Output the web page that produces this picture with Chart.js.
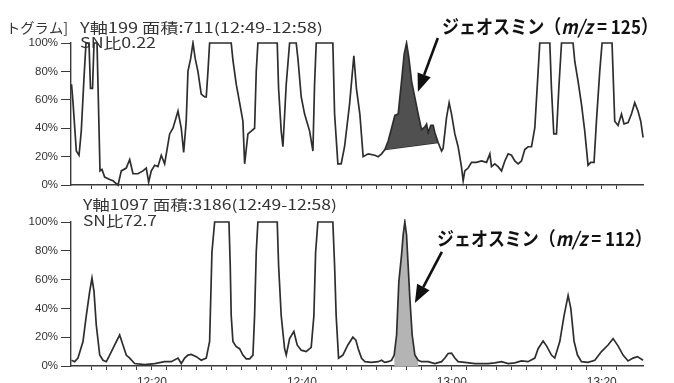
<!DOCTYPE html>
<html>
<head>
<meta charset="utf-8">
<script src="https://cdn.jsdelivr.net/npm/chart.js@4.4.1/dist/chart.umd.min.js"></script>
<style>
  html, body { margin: 0; padding: 0; background: #fff; }
  #wrap { position: relative; width: 674px; height: 383px; overflow: hidden; }
  .box { position: absolute; left: 0; width: 674px; }
</style>
</head>
<body>
<div id="wrap">
  <div class="box" style="top:0;height:195px"><canvas id="chartTop"></canvas></div>
  <div class="box" style="top:195px;height:188px"><canvas id="chartBottom"></canvas></div>
</div>
<script>
// 時間は12:00からの分、強度は%
const time125 = [9.27, 9.47, 9.91, 10.27, 10.57, 10.93, 11.2, 11.6, 11.8, 12.07, 12.27, 12.67, 13.07, 13.33, 13.69,
  14.36, 14.8, 15.24, 15.47, 15.91, 16.57, 17.03, 17.47, 18.13, 18.8, 19.24, 19.56, 19.91, 20.36, 20.8, 21.24, 21.69,
  22.36, 22.8, 23.47, 23.91, 24.23, 24.57, 24.8, 25.16, 25.47, 25.77, 26.13, 26.57, 27.03, 27.24, 27.47, 27.69,
  30.57, 30.8, 31.24, 31.69, 32.13, 32.36, 32.8, 33.24, 33.69, 33.91, 34.13, 36.71, 36.89, 37.24, 37.47, 37.91, 38.36,
  39.24, 39.47, 39.91, 40.36, 41.03, 41.47, 41.69, 41.91, 44.13, 44.36, 44.8, 45.24, 45.69, 46.36, 46.93, 47.27,
  47.73, 48.17, 48.84, 49.73, 50.17, 50.63, 51.07, 51.51, 51.96, 52.4, 52.84, 53.29, 53.64, 53.96, 54.27, 54.63,
  55.07, 55.51, 55.96, 56.4, 56.63, 56.84, 57.2, 57.51, 57.73, 58.17, 58.63, 58.84, 59.29, 59.64, 59.96, 60.4, 60.84,
  61.29, 61.51, 61.73, 62.17, 62.63, 63.29, 63.96, 64.63, 65.07, 65.29, 65.73, 66.17, 66.63, 67.07, 67.51, 67.96,
  68.4, 68.84, 69.29, 69.73, 70.17, 70.63, 71.07, 71.51, 71.73, 73.07, 73.29, 73.6, 73.96, 74.27, 74.63, 76.17,
  76.4, 76.84, 77.29, 77.73, 78.17, 78.53, 78.97, 79.29, 79.73, 80.04, 81.37, 81.73, 82.17, 82.63, 82.97, 83.51,
  83.96, 84.4, 84.84, 85.2, 85.51];
const value125 = [71, 58, 24, 21, 38, 75, 100, 100, 68, 68, 100, 100, 10, 11, 5.6,
  4, 3, 1, 0, 10, 12, 18, 8, 8, 10, 12, 2, 10, 14, 13, 21, 15,
  36, 40, 52, 40, 23, 45, 80, 89, 100, 89, 80, 64, 62, 62, 80, 100,
  100, 88, 71, 58, 45, 15, 36, 38, 40, 80, 100, 100, 68, 38, 27, 71, 100,
  100, 89, 62, 50, 38, 24, 71, 100, 100, 50, 15, 15, 27, 57, 91, 68,
  50, 20, 22, 21, 20, 22, 25, 31, 40, 49, 50, 73, 92, 100, 89.5, 73,
  61.5, 50, 39, 41, 43, 37, 42, 42, 37, 30, 24, 26, 47.5, 58, 50, 36, 27,
  12.6, 3, 10, 12, 16, 16, 17, 16, 22, 13, 15, 13, 10, 17, 22, 21,
  17, 15, 17, 25, 27, 27, 40.5, 80, 100, 100, 68, 36, 36, 68, 100, 100,
  87, 73, 57, 38, 14, 16, 16, 45, 80, 100, 100, 45, 42, 50, 43, 44,
  50, 58, 52, 45, 33.5];

const time112 = [9.27, 9.69, 10.13, 10.8, 11.24, 11.69, 12.0, 12.27, 12.57, 13.03, 13.47, 13.91, 14.36, 15.03, 15.69,
  16.13, 16.57, 17.03, 17.69, 19.03, 20.36, 21.69, 22.57, 23.47, 23.91, 24.36, 24.8, 25.24, 25.91, 26.57, 27.24,
  27.69, 28.0, 28.36, 30.27, 30.44, 30.57, 30.8, 31.24, 31.69, 32.13, 32.57, 33.03, 33.47, 33.69, 33.91, 34.13,
  36.71, 36.89, 37.24, 37.69, 37.91, 38.36, 38.93, 39.37, 39.91, 40.57, 41.24, 41.6, 41.83, 42.13, 44.13, 44.36,
  44.57, 44.89, 45.47, 46.13, 46.8, 47.2, 47.51, 47.96, 48.4, 49.29, 50.17, 50.63, 51.07, 51.51, 51.96, 52.31,
  52.63, 52.93, 53.29, 53.51, 53.73, 53.96, 54.17, 54.4, 54.71, 55.07, 55.51, 55.96, 56.84, 57.73, 58.63, 59.07,
  59.51, 59.96, 60.4, 60.84, 61.73, 63.07, 64.84, 65.73, 66.63, 67.51, 68.4, 69.29, 70.17, 71.07, 71.51, 72.17,
  72.63, 73.29, 73.73, 74.4, 74.97, 75.51, 75.87, 76.31, 76.76, 77.29, 78.17, 79.07, 79.96, 80.84, 81.51, 82.17,
  82.84, 83.51, 84.17, 84.76, 85.51];
const value112 = [4, 3, 5.5, 17, 35, 51.6, 61, 51.6, 28.5, 7.6, 4, 3, 7.6, 14.6, 21.5,
  14.6, 7.6, 5.5, 1.7, 1, 1.7, 3, 3, 5.5, 1.7, 5.5, 7.6, 8, 6.5, 4, 5.5,
  17, 79, 100, 100, 70, 35, 17, 13.4, 12, 7.6, 5, 5, 7.6, 35, 79, 100,
  100, 70, 35, 12, 7.6, 19, 24, 14.6, 11, 10, 13, 35, 79, 100, 100, 70,
  35, 5.5, 7.6, 14.6, 20, 18, 12, 5.3, 3, 2.5, 3, 4, 2.5, 3, 4, 7.6,
  21.5, 58.5, 77, 91, 100, 91, 70, 47, 21.5, 7.6, 4, 3, 3, 1.7, 3, 5.5,
  8.7, 9, 5.5, 3, 2.5, 1.7, 1.7, 2.2, 3, 1.7, 2.2, 3.5, 3, 5.5, 12, 17.4,
  14, 7.6, 5.5, 17, 35, 49, 40, 17, 7.6, 3, 2.5, 4, 10, 14.6, 19, 14,
  7.6, 3.5, 5.5, 6.5, 4];

// ジェオスミンのピーク範囲（分）とベースライン
const peak125Range = [51.07, 58.17];
const base125Time = [51.07, 58.17];
const base125Value = [25, 30];
const peak112Range = [52.31, 55.51];

const yTicks = [0, 20, 40, 60, 80, 100];
const xLabelTimes = [20, 40, 60, 80];

function toPoints(times, values) {
  return times.map((t, i) => ({ x: t, y: values[i] }));
}
function pickRange(times, values, range) {
  return toPoints(times, values).filter(p => p.x >= range[0] - 1e-6 && p.x <= range[1] + 1e-6);
}
function timeLabel(v) {
  const h = 12 + Math.floor(v / 60);
  const m = v % 60;
  return h + ":" + String(m).padStart(2, "0");
}

function drawRuns(ctx, runs, x, y, width) {
  ctx.save();
  ctx.textBaseline = "middle";
  let total = 0;
  runs.forEach(r => { ctx.font = r.font; r.w = ctx.measureText(r.text).width; total += r.w; });
  ctx.translate(x, y);
  ctx.scale(width / total, 1);
  let cx = 0;
  runs.forEach(r => {
    ctx.font = r.font;
    ctx.fillStyle = r.color || "#333";
    ctx.fillText(r.text, cx, 0);
    cx += r.w;
  });
  ctx.restore();
}

function drawArrow(chart, from, to) {
  const ctx = chart.ctx;
  const xs = chart.scales.x, ys = chart.scales.y;
  const x1 = xs.getPixelForValue(from[0]), y1 = ys.getPixelForValue(from[1]);
  const x2 = xs.getPixelForValue(to[0]), y2 = ys.getPixelForValue(to[1]);
  const ang = Math.atan2(y2 - y1, x2 - x1);
  const head = 18, half = 7;
  const bx = x2 - head * Math.cos(ang), by = y2 - head * Math.sin(ang);
  ctx.save();
  ctx.strokeStyle = "#111";
  ctx.fillStyle = "#111";
  ctx.lineWidth = 2.6;
  ctx.beginPath();
  ctx.moveTo(x1, y1);
  ctx.lineTo(bx, by);
  ctx.stroke();
  ctx.beginPath();
  ctx.moveTo(x2, y2);
  ctx.lineTo(bx - half * Math.sin(ang), by + half * Math.cos(ang));
  ctx.lineTo(bx + half * Math.sin(ang), by - half * Math.cos(ang));
  ctx.closePath();
  ctx.fill();
  ctx.restore();
}

const capFont = '14px "Noto Sans CJK JP"';
const boldFont = 'bold 19px "Noto Sans CJK JP"';
const boldItalic = 'italic bold 19px "Noto Sans CJK JP"';

const notesPlugin = {
  id: "notes",
  beforeDatasetsDraw(chart, args, opts) {
    (opts.captions || []).forEach(c => drawRuns(chart.ctx, [{ text: c.text, font: capFont, color: "#333" }], c.x, c.y, c.w));
  },
  afterDraw(chart, args, opts) {
    if (opts.label) {
      const l = opts.label;
      drawRuns(chart.ctx, [
        { text: "ジェオスミン（", font: boldFont, color: "#111" },
        { text: "m/z", font: boldItalic, color: "#111" },
        { text: " = " + l.mz + "）", font: boldFont, color: "#111" }
      ], l.x, l.y, l.w);
    }
    if (opts.arrow) drawArrow(chart, opts.arrow.from, opts.arrow.to);
  }
};

function makeOptions(padTop, xHeight, showLabels, notes) {
  return {
    responsive: true,
    maintainAspectRatio: false,
    animation: false,
    devicePixelRatio: 1,
    layout: { padding: { top: padTop, right: 31, left: 0, bottom: 0 } },
    plugins: { legend: { display: false }, tooltip: { enabled: false }, notes: notes },
    scales: {
      x: {
        type: "linear",
        min: 9.2,
        max: 85.5,
        afterFit: s => { s.height = xHeight; },
        afterBuildTicks: s => { s.ticks = s.ticks.filter(t => Math.abs(t.value / 2 - Math.round(t.value / 2)) < 1e-6); },
        border: { color: "#3a3a3a", width: 1.4 },
        grid: { drawOnChartArea: false, color: "#3a3a3a", tickLength: 4 },
        ticks: {
          stepSize: 2,
          autoSkip: false,
          maxRotation: 0,
          padding: 5,
          color: "#333",
          font: { family: "Liberation Sans", size: 12 },
          callback: v => (showLabels && xLabelTimes.includes(v)) ? timeLabel(v) : ""
        }
      },
      y: {
        min: 0,
        max: 100,
        afterFit: s => { s.width = 71; },
        afterBuildTicks: s => { s.ticks = yTicks.map(v => ({ value: v })); },
        border: { color: "#3a3a3a", width: 1.4 },
        grid: { drawOnChartArea: false, color: "#3a3a3a", tickLength: 10 },
        ticks: {
          padding: 3,
          color: "#333",
          font: { family: "Liberation Sans", size: 11.5 },
          callback: v => v + "%"
        }
      }
    }
  };
}

const lineStyle = { borderColor: "#2e2e2e", borderWidth: 1.7, pointRadius: 0, tension: 0, clip: 3, fill: false };

new Chart(document.getElementById("chartTop"), {
  type: "line",
  data: {
    datasets: [
      Object.assign({ data: toPoints(time125, value125) }, lineStyle),
      { data: pickRange(time125, value125, peak125Range), borderWidth: 0, pointRadius: 0, tension: 0,
        backgroundColor: "#505050", fill: 2 },
      { data: toPoints(base125Time, base125Value), borderColor: "#2e2e2e", borderWidth: 1.4, pointRadius: 0, fill: false }
    ]
  },
  options: makeOptions(43, 9, false, {
    captions: [
      { text: "トグラム]", x: 6, y: 28, w: 62 },
      { text: "Y軸199 面積:711(12:49-12:58)", x: 80, y: 28, w: 243 },
      { text: "SN比0.22", x: 80, y: 43, w: 76 }
    ],
    label: { mz: 125, x: 442, y: 27, w: 216 },
    arrow: { from: [58.13, 103.5], to: [55.47, 65.7] }
  }),
  plugins: [notesPlugin]
});

new Chart(document.getElementById("chartBottom"), {
  type: "line",
  data: {
    datasets: [
      Object.assign({ data: toPoints(time112, value112) }, lineStyle),
      { data: pickRange(time112, value112, peak112Range), borderWidth: 0, pointRadius: 0, tension: 0,
        backgroundColor: "#b4b4b4", fill: "origin" }
    ]
  },
  options: makeOptions(27, 17, true, {
    captions: [
      { text: "Y軸1097 面積:3186(12:49-12:58)", x: 83, y: 10, w: 254 },
      { text: "SN比72.7", x: 83, y: 26, w: 74 }
    ],
    label: { mz: 112, x: 437, y: 44, w: 215 },
    arrow: { from: [58.67, 79.2], to: [55.07, 43.75] }
  }),
  plugins: [notesPlugin]
});
</script>
</body>
</html>
